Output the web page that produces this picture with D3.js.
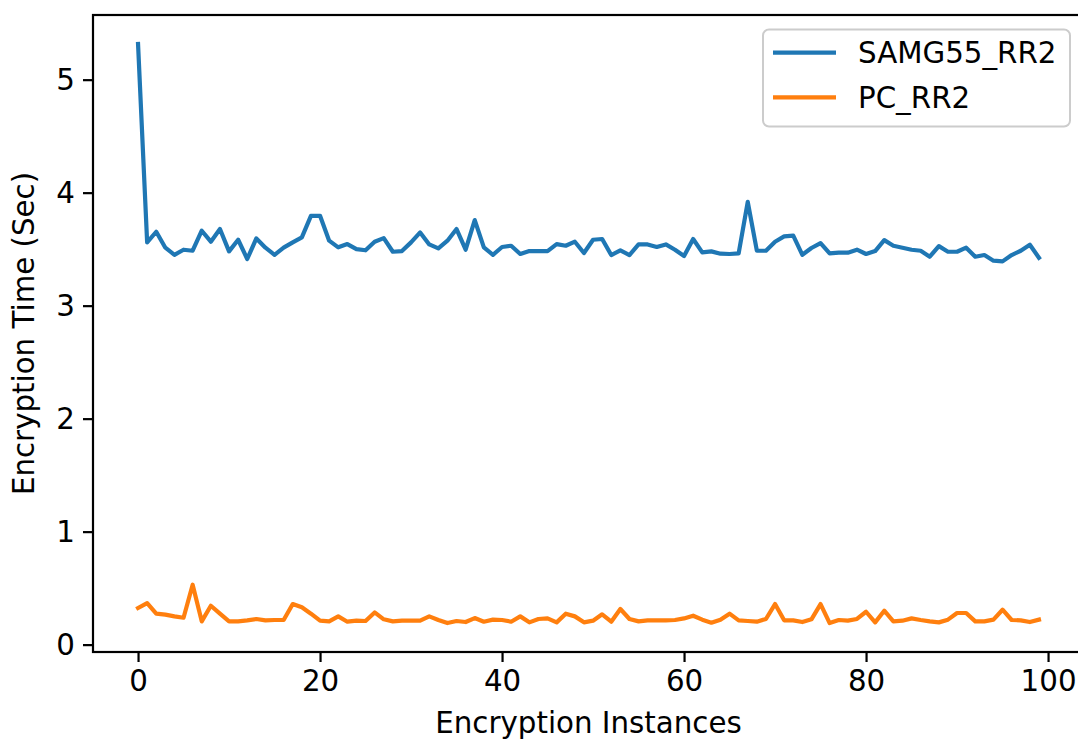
<!DOCTYPE html>
<html>
<head>
<meta charset="utf-8">
<script src="https://d3js.org/d3.v7.min.js"></script>
<style>
  body { margin: 0; background: #fff; }
  text { font-family: 'DejaVu Sans', sans-serif; }
</style>
</head>
<body>
<svg width="1078" height="740"></svg>
<script>
// encryption times per instance
var samg55 = [5.316, 3.56, 3.654, 3.513, 3.45, 3.495, 3.486, 3.663, 3.566, 3.678,
  3.48, 3.583, 3.413, 3.595, 3.513, 3.45, 3.513, 3.56, 3.604, 3.795,
  3.795, 3.575, 3.516, 3.545, 3.50, 3.49, 3.566, 3.598, 3.477, 3.483,
  3.56, 3.648, 3.542, 3.507, 3.575, 3.678, 3.495, 3.757, 3.516, 3.45,
  3.519, 3.53, 3.457, 3.483, 3.483, 3.483, 3.545, 3.53, 3.566, 3.466,
  3.583, 3.59, 3.448, 3.49, 3.448, 3.542, 3.542, 3.519, 3.542, 3.495,
  3.439, 3.59, 3.471, 3.48, 3.46, 3.457, 3.462, 3.919, 3.486, 3.486,
  3.566, 3.613, 3.619, 3.45, 3.51, 3.554, 3.462, 3.469, 3.469, 3.495,
  3.457, 3.483, 3.58, 3.53, 3.513, 3.495, 3.486, 3.433, 3.527, 3.477,
  3.477, 3.513, 3.433, 3.448, 3.398, 3.392, 3.448, 3.486, 3.539, 3.424];

var pc = [0.324, 0.368, 0.274, 0.265, 0.25, 0.238, 0.53, 0.206, 0.344, 0.274,
  0.206, 0.206, 0.215, 0.227, 0.215, 0.218, 0.218, 0.359, 0.33, 0.274,
  0.212, 0.206, 0.25, 0.203, 0.212, 0.209, 0.285, 0.224, 0.206, 0.212,
  0.212, 0.212, 0.25, 0.218, 0.191, 0.209, 0.2, 0.235, 0.203, 0.221,
  0.218, 0.203, 0.25, 0.197, 0.227, 0.232, 0.197, 0.274, 0.25, 0.197,
  0.212, 0.268, 0.203, 0.315, 0.227, 0.206, 0.215, 0.215, 0.215, 0.218,
  0.232, 0.256, 0.221, 0.194, 0.221, 0.274, 0.215, 0.209, 0.203, 0.227,
  0.359, 0.215, 0.215, 0.2, 0.224, 0.359, 0.191, 0.218, 0.212, 0.227,
  0.291, 0.197, 0.3, 0.206, 0.212, 0.232, 0.218, 0.206, 0.197, 0.221,
  0.28, 0.28, 0.206, 0.206, 0.221, 0.309, 0.218, 0.215, 0.2, 0.221];

var seriesNames = ['SAMG55_RR2', 'PC_RR2'];
var seriesColors = ['#1f77b4', '#ff7f0e'];
var xTicks = [0, 20, 40, 60, 80, 100];
var yTicks = [0, 1, 2, 3, 4, 5];

var svg = d3.select('svg');
var fontSize = 29.3;

// axes box (right edge runs just past the picture, as in the original)
var box = {l: 93, t: 15, r: 1084, b: 652};

var series = [samg55, pc];
var n = samg55.length;

// matplotlib-style 5% margins
var xPad = (n - 1) * 0.05;
var xScale = d3.scaleLinear()
    .domain([-xPad, n - 1 + xPad])
    .range([box.l, box.r]);

var yMin = d3.min(series, function(s) { return d3.min(s); });
var yMax = d3.max(series, function(s) { return d3.max(s); });
var yPad = (yMax - yMin) * 0.05;
var yScale = d3.scaleLinear()
    .domain([yMin - yPad, yMax + yPad])
    .range([box.b, box.t]);

var line = d3.line()
    .x(function(d, i) { return xScale(i); })
    .y(function(d) { return yScale(d); });

series.forEach(function(s, k) {
  svg.append('path')
      .datum(s)
      .attr('d', line)
      .attr('fill', 'none')
      .attr('stroke', seriesColors[k])
      .attr('stroke-width', 4.2)
      .attr('stroke-linejoin', 'round')
      .attr('stroke-linecap', 'square');
});

// axes
var xAxis = d3.axisBottom(xScale)
    .tickValues(xTicks)
    .tickSize(10)
    .tickPadding(8)
    .tickFormat(d3.format('d'));
var yAxis = d3.axisLeft(yScale)
    .tickValues(yTicks)
    .tickSize(10)
    .tickPadding(8)
    .tickFormat(d3.format('d'));

var gx = svg.append('g')
    .attr('transform', 'translate(0,' + box.b + ')')
    .call(xAxis);
var gy = svg.append('g')
    .attr('transform', 'translate(' + box.l + ',0)')
    .call(yAxis);

[gx, gy].forEach(function(g) {
  g.select('.domain').remove();
  g.selectAll('.tick line').attr('stroke', '#000').attr('stroke-width', 2.2);
  g.selectAll('.tick text')
      .attr('fill', '#000')
      .style('font-size', fontSize + 'px')
      .style('font-family', 'DejaVu Sans');
});

// spines
svg.append('rect')
    .attr('x', box.l)
    .attr('y', box.t)
    .attr('width', box.r - box.l)
    .attr('height', box.b - box.t)
    .attr('fill', 'none')
    .attr('stroke', '#000')
    .attr('stroke-width', 2.2);

svg.append('text')
    .attr('x', (box.l + box.r) / 2)
    .attr('y', 733)
    .attr('text-anchor', 'middle')
    .style('font-size', fontSize + 'px')
    .text('Encryption Instances');

svg.append('text')
    .attr('transform', 'translate(34,' + (box.t + box.b) / 2 + ') rotate(-90)')
    .attr('text-anchor', 'middle')
    .style('font-size', fontSize + 'px')
    .text('Encryption Time (Sec)');

// legend
var legend = svg.append('g');
legend.append('rect')
    .attr('x', 763)
    .attr('y', 29.5)
    .attr('width', 307)
    .attr('height', 97)
    .attr('rx', 6)
    .attr('fill', '#fff')
    .attr('fill-opacity', 0.8)
    .attr('stroke', '#cccccc')
    .attr('stroke-width', 2);

seriesNames.forEach(function(name, k) {
  var ly = 52.7 + k * 44.6;
  legend.append('line')
      .attr('x1', 773)
      .attr('x2', 836)
      .attr('y1', ly)
      .attr('y2', ly)
      .attr('stroke', seriesColors[k])
      .attr('stroke-width', 4.2);
  legend.append('text')
      .attr('x', 858)
      .attr('y', ly)
      .attr('dy', '0.36em')
      .style('font-size', fontSize + 'px')
      .text(name);
});
</script>
</body>
</html>
